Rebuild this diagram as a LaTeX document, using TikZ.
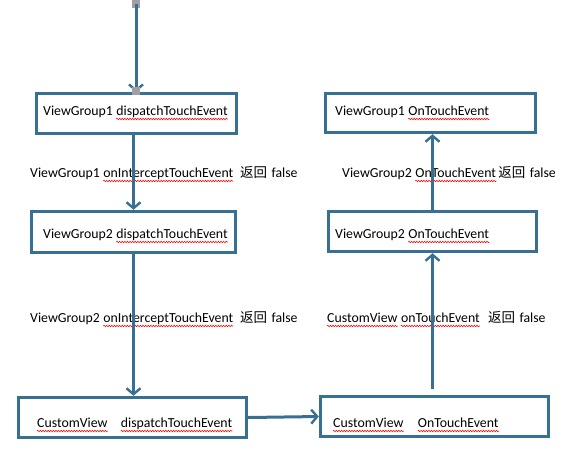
\documentclass[tikz,border=0pt]{standalone}
\usepackage{fontspec}
\setmainfont{Carlito}
\newfontfamily\cjk{Noto Sans CJK SC}
\usetikzlibrary{arrows.meta,decorations.pathmorphing}
\definecolor{bl}{RGB}{55,112,146}
\definecolor{gr}{RGB}{160,160,164}
\tikzset{
  box/.style={draw=bl, line width=3.4pt, inner sep=0pt, fill=none},
  wd/.style={anchor=base west, inner sep=0pt, font=\fontsize{13.8pt}{16pt}\selectfont},
  ck/.style={wd, font=\fontsize{13.5pt}{16pt}\selectfont\cjk},
  wave/.style={draw=red, line width=0.55pt, decorate, decoration={snake, segment length=2.6pt, amplitude=0.75pt}},
  conn/.style={draw=bl, line width=3pt, -{Straight Barb[length=6pt,width=14pt,line width=2.4pt]}},
  sqr/.style={fill=gr, draw=none, minimum size=8pt, inner sep=0pt}
}
\begin{document}
\begin{tikzpicture}[x=1pt,y=-1pt]
\useasboundingbox (0,0) rectangle (564,467);
% boxes
\node[box, minimum width=200pt, minimum height=40pt] (b1) at (136.5,113.5) {};
\node[box, minimum width=204pt, minimum height=41pt] (b2) at (133.5,232) {};
\node[box, minimum width=228pt, minimum height=40pt] (b3) at (132.5,417.5) {};
\node[box, minimum width=228pt, minimum height=40pt] (b4) at (434.5,416.5) {};
\node[box, minimum width=208pt, minimum height=40pt] (b5) at (432.5,231.5) {};
\node[box, minimum width=210pt, minimum height=39pt] (b6) at (430.5,113) {};
% box texts
\node[wd] (t1a) at (43,115.5) {ViewGroup1};
\node[wd] (t1b) at ([xshift=3.1pt]t1a.base east) {dispatchTouchEvent};
\node[wd] (t2a) at (43,238.5) {ViewGroup2};
\node[wd] (t2b) at ([xshift=3.1pt]t2a.base east) {dispatchTouchEvent};
\node[wd] (t3a) at (37,427.5) {CustomView};
\node[wd] (t3b) at ([xshift=13pt]t3a.base east) {dispatchTouchEvent};
\node[wd] (t4a) at (333,427.5) {CustomView};
\node[wd] (t4b) at ([xshift=14pt]t4a.base east) {OnTouchEvent};
\node[wd] (t5a) at (335,238.5) {ViewGroup2};
\node[wd] (t5b) at ([xshift=3.1pt]t5a.base east) {OnTouchEvent};
\node[wd] (t6a) at (335,115.5) {ViewGroup1};
\node[wd] (t6b) at ([xshift=3.1pt]t6a.base east) {OnTouchEvent};
% labels
\node[wd] (l1a) at (30,177.5) {ViewGroup1};
\node[wd] (l1b) at ([xshift=3.1pt]l1a.base east) {onInterceptTouchEvent};
\node[ck] (l1c) at ([xshift=6.5pt]l1b.base east) {返回};
\node[wd] (l1d) at ([xshift=4pt]l1c.base east) {false};
\node[wd] (l2a) at (30,322.5) {ViewGroup2};
\node[wd] (l2b) at ([xshift=3.1pt]l2a.base east) {onInterceptTouchEvent};
\node[ck] (l2c) at ([xshift=6.5pt]l2b.base east) {返回};
\node[wd] (l2d) at ([xshift=4pt]l2c.base east) {false};
\node[wd] (l3a) at (342,177.5) {ViewGroup2};
\node[wd] (l3b) at ([xshift=3.1pt]l3a.base east) {OnTouchEvent};
\node[ck] (l3c) at ([xshift=2pt]l3b.base east) {返回};
\node[wd] (l3d) at ([xshift=4pt]l3c.base east) {false};
\node[wd] (l4a) at (327,322.5) {CustomView};
\node[wd] (l4b) at ([xshift=3.1pt]l4a.base east) {onTouchEvent};
\node[ck] (l4c) at ([xshift=8pt]l4b.base east) {返回};
\node[wd] (l4d) at ([xshift=4pt]l4c.base east) {false};
% spell-check waves
\foreach \w in {t1b,t2b,t3a,t3b,t4a,t4b,t5b,t6b,l1b,l2b,l3b,l4a,l4b}
  \draw[wave] ([yshift=-3.5pt]\w.base west) -- ([yshift=-3.5pt]\w.base east);
% top start
\node[sqr] (s0) at (136,4) {};
\coordinate (s1) at (136,92);
\draw[conn] (s0.center) -- (s1);
\node[sqr] (s2) at (136,91) {};
% connectors
\draw[conn] (b1.south -| b2.north) -- (b2.north);
\draw[conn] (b2.south) -- (b2.south |- b3.north);
\draw[conn] (b3.east) -- (b4.west);
\draw[conn] ([yshift=6pt]b4.north -| b5.south) -- (b5.south);
\draw[conn] (b5.north) -- (b5.north |- b6.south);
\end{tikzpicture}
\end{document}
